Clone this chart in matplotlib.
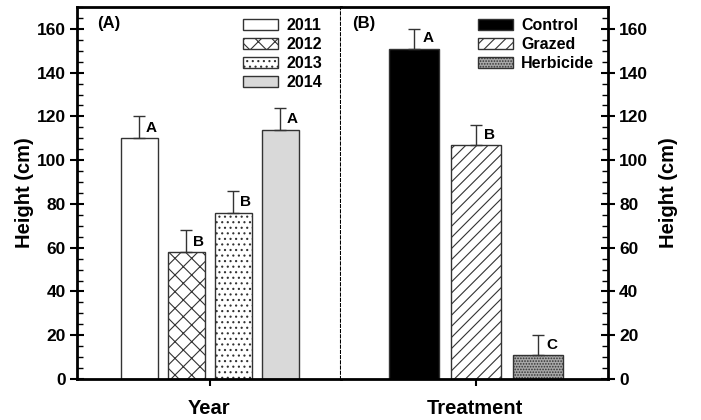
import numpy as np
import matplotlib.pyplot as plt
from matplotlib.patches import Patch
from matplotlib.ticker import MultipleLocator

plt.rcParams['font.family'] = ['Liberation Sans', 'DejaVu Sans']
plt.rcParams['font.weight'] = 'bold'
plt.rcParams['hatch.linewidth'] = 0.8

years = ["2011", "2012", "2013", "2014"]
year_height = [110, 58, 76, 114]
year_err = [10, 10, 10, 10]
year_letters = ["A", "B", "B", "A"]

treatments = ["Control", "Grazed", "Herbicide"]
treat_height = [151, 107, 11]
treat_err = [9, 9, 9]
treat_letters = ["A", "B", "C"]

year_fc = ["white", "white", "white", "#d9d9d9"]
year_hatch = [None, "xx", "...", None]
treat_fc = ["black", "white", "#a8a8a8"]
treat_hatch = [None, "///", "......"]

fig = plt.figure(figsize=(7.01, 4.2), dpi=100)
L, R, B, T = 77 / 701, 608 / 701, 1 - 379 / 420, 1 - 7 / 420
mid = 341 / 701
ax1 = fig.add_axes([L, B, mid - L, T - B])
ax2 = fig.add_axes([mid, B, R - mid, T - B])


def draw(ax, x, h, e, letters, fc, hatch, width):
    for i in range(len(x)):
        ax.bar(x[i], h[i], width=width, color=fc[i], edgecolor="#333333",
               hatch=hatch[i], linewidth=1, zorder=2)
        ax.errorbar(x[i], h[i], yerr=[[0], [e[i]]], fmt="none", ecolor="#333333",
                    elinewidth=1, capsize=4, capthick=1, zorder=3)
        ax.text(x[i] + 0.13, h[i] + 1.5, letters[i], fontsize=11,
                fontweight="bold", ha="left", va="bottom")


x1 = np.arange(len(years))
draw(ax1, x1, year_height, year_err, year_letters, year_fc, year_hatch, 0.79)
ax1.set_xlim(-1.33, 4.29)
x2 = np.arange(len(treatments))
draw(ax2, x2, treat_height, treat_err, treat_letters, treat_fc, treat_hatch, 0.81)
ax2.set_xlim(-1.18, 3.13)

for ax in (ax1, ax2):
    ax.set_ylim(0, 170)
    ax.yaxis.set_major_locator(MultipleLocator(20))
    ax.yaxis.set_minor_locator(MultipleLocator(5))
    for s in ax.spines.values():
        s.set_linewidth(2)
    ax.tick_params(axis="y", which="major", direction="inout", length=10, width=1.5,
                   labelsize=12.5, pad=3)
    ax.tick_params(axis="y", which="minor", direction="in", length=4, width=1)
    ax.tick_params(axis="x", direction="out", length=5, width=1.5)

ax1.set_xticks([1.5])
ax1.set_xticklabels([""])
ax2.set_xticks([1])
ax2.set_xticklabels([""])

ax1.spines["right"].set_linestyle((0, (1, 1.5)))
ax1.spines["right"].set_linewidth(1.5)
ax2.spines["left"].set_visible(False)
ax2.yaxis.tick_right()
ax2.yaxis.set_label_position("right")
ax1.tick_params(axis="y", which="both", right=False)
ax2.tick_params(axis="y", which="both", left=False)

ax1.set_ylabel("Height (cm)", fontsize=14.5, fontweight="bold", labelpad=2)
ax2.set_ylabel("Height (cm)", fontsize=14.5, fontweight="bold", labelpad=8)
ax1.set_xlabel("Year", fontsize=14.5, fontweight="bold", labelpad=6)
ax2.set_xlabel("Treatment", fontsize=14.5, fontweight="bold", labelpad=6)

ax1.text(0.075, 0.975, "(A)", transform=ax1.transAxes, fontsize=12,
         fontweight="bold", va="top")
ax2.text(0.04, 0.975, "(B)", transform=ax2.transAxes, fontsize=12,
         fontweight="bold", va="top")

h1 = [Patch(facecolor=year_fc[i], edgecolor="#333333", hatch=year_hatch[i])
      for i in range(len(years))]
ax1.legend(h1, years, loc="upper right", frameon=False, fontsize=11.5,
           handlelength=2.2, handleheight=0.65, handletextpad=0.5, labelspacing=0.25,
           bbox_to_anchor=(0.97, 1.0), borderaxespad=0.3)
h2 = [Patch(facecolor=treat_fc[i], edgecolor="#333333", hatch=treat_hatch[i])
      for i in range(len(treatments))]
ax2.legend(h2, treatments, loc="upper right", frameon=False, fontsize=11.5,
           handlelength=2.2, handleheight=0.65, handletextpad=0.5, labelspacing=0.25,
           bbox_to_anchor=(0.99, 1.0), borderaxespad=0.3)

fig.savefig("out.png", dpi=100)
